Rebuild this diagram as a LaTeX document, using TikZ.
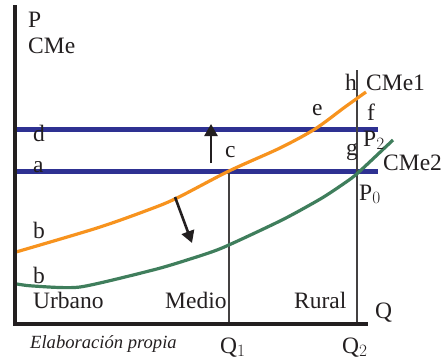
\documentclass[tikz,border=0pt]{standalone}
\usepackage{fontspec}
\setmainfont{Liberation Serif}
\usetikzlibrary{arrows.meta}
\definecolor{cmeblue}{HTML}{2E3192}
\definecolor{cmeorange}{HTML}{F7931E}
\definecolor{cmegreen}{HTML}{3F7E5C}
\definecolor{cmeink}{HTML}{231F20}
\tikzset{
 cme axis/.style={line width=4.5pt,cmeink},
 cme price/.style={line width=4.5pt,cmeblue},
 cme qty/.style={line width=1.4pt,cmeink!85},
 cme curve one/.style={line width=3.2pt,cmeorange},
 cme curve two/.style={line width=3.2pt,cmegreen},
 cme shift/.style={line width=2.6pt,cmeink,
                   -{Triangle[length=12pt,width=13pt]}},
 cme label/.style={font=\fontsize{23.5}{26}\selectfont,text=cmeink,
                   inner sep=0pt,anchor=base west},
 cme note/.style={font=\fontsize{18.6}{21}\selectfont\itshape,text=cmeink,
                  inner sep=0pt,anchor=base west}
}

\begin{document}
\begin{tikzpicture}[x=1pt,y=-1pt]
 \useasboundingbox (0,0) rectangle (444,362);
 \coordinate (O) at (15,324);
 \coordinate (ytop) at (15,5);
 \coordinate (xend) at (368,324);
 \coordinate (c) at (229,171);
 \coordinate (q1) at (229,324);
 \coordinate (htop) at (357,70);
 \coordinate (q2) at (357,324);

 % price levels
 \draw[cme price] (15,129.5)--(378,129.5);
 \draw[cme price] (15,171.5)--(378,171.5);
 % quantities
 \draw[cme qty] (c)--(q1);
 \draw[cme qty] (htop)--(q2);
 % average cost curves
 \draw[cme curve one] plot[smooth,tension=.5] coordinates
   {(16,252) (97,228) (148,210) (177,198) (229,171) (280,148)
    (315,129) (345,107) (366,92)};
 \draw[cme curve two] plot[smooth,tension=.4] coordinates
   {(17,284) (33,286) (80,287) (153,270) (187,260) (222,248)
    (282,220) (322,198) (349,180) (360,171) (393,140)};
 % axes
 \draw[cme axis] (O|-ytop)--(O);
 \draw[cme axis] ([xshift=-2pt]O)--(xend);
 % shifts
 \draw[cme shift] (211,163)--(211,124);
 \draw[cme shift] (175,197)--(192,243);

 \node[cme label] (lP) at (28,27) {P};
 \node[cme label] (lCMe) at (28,53) {CMe};
 \node[cme label] (ld) at (33,141) {d};
 \node[cme label] (la) at (33,172) {a};
 \node[cme label] (lb1) at (33,238) {b};
 \node[cme label] (lb2) at (33,283) {b};
 \node[cme label] (lc) at (225,157) {c};
 \node[cme label] (le) at (312,115) {e};
 \node[cme label] (lh) at (345,90) {h};
 \node[cme label] (lCMe1) at (366,90) {CMe1};
 \node[cme label] (lf) at (367,120) {f};
 \node[cme label] (lP2) at (363,146) {P$_2$};
 \node[cme label] (lg) at (346,155) {g};
 \node[cme label] (lCMe2) at (383,170) {CMe2};
 \node[cme label] (lP0) at (359,200) {P$_0$};
 \node[cme label] (urb) at (33,308) {Urbano};
 \node[cme label] (med) at (165,308) {Medio};
 \node[cme label] (rur) at (294,308) {Rural};
 \node[cme label] (lQ) at (375,318) {Q};
 \node[cme label] (lQ1) at (220,353) {Q$_1$};
 \node[cme label] (lQ2) at (342,353) {Q$_2$};
 \node[cme note] (src) at (30,348) {Elaboración propia};
\end{tikzpicture}
\end{document}
